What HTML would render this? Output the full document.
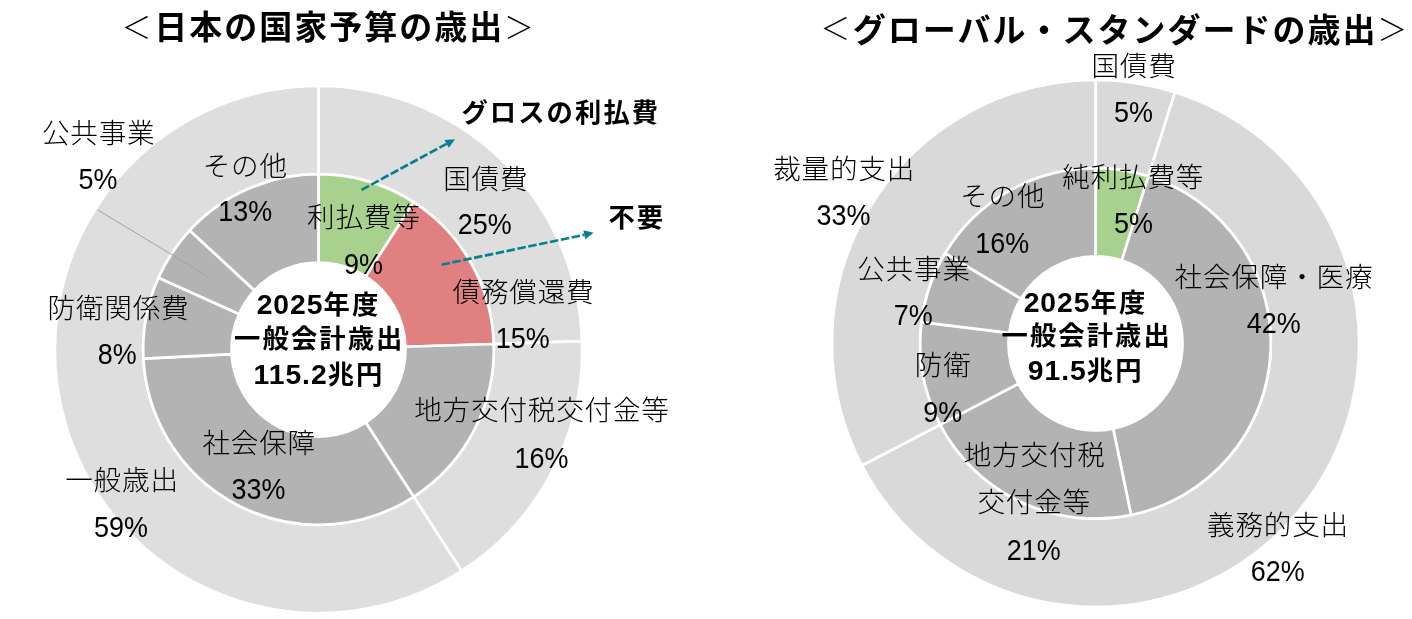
<!DOCTYPE html>
<html lang="ja"><head><meta charset="utf-8"><title>歳出</title>
<style>
html,body{margin:0;padding:0;background:#fff;}
body{width:1412px;height:619px;overflow:hidden;}
svg{display:block;font-family:'Liberation Sans','Noto Sans CJK JP',sans-serif;fill:#000;}
</style></head><body>
<svg width="1412" height="619" viewBox="0 0 1412 619">
<rect width="1412" height="619" fill="#fff"/>
<!-- left donut -->
<g stroke="#fff" stroke-width="2.7" stroke-linejoin="round">
<path d="M318.50 85.85 A263.65 263.65 0 0 1 582.02 341.22 L493.74 343.99 A175.33 175.33 0 0 0 318.50 174.17 Z" fill="#dedede"/>
<path d="M582.02 341.22 A263.65 263.65 0 0 1 461.58 570.95 L413.65 496.76 A175.33 175.33 0 0 0 493.74 343.99 Z" fill="#dedede"/>
<path d="M461.58 570.95 A263.65 263.65 0 1 1 318.50 85.85 L318.50 174.17 A175.33 175.33 0 1 0 413.65 496.76 Z" fill="#dedede"/>
<path d="M318.50 174.17 A175.33 175.33 0 0 1 413.65 202.24 L365.72 276.42 A87.00 87.00 0 0 0 318.50 262.50 Z" fill="#a9d18e"/>
<path d="M413.65 202.24 A175.33 175.33 0 0 1 493.74 343.99 L405.46 346.77 A87.00 87.00 0 0 0 365.72 276.42 Z" fill="#e08080"/>
<path d="M493.74 343.99 A175.33 175.33 0 0 1 413.65 496.76 L365.72 422.58 A87.00 87.00 0 0 0 405.46 346.77 Z" fill="#b3b3b3"/>
<path d="M413.65 496.76 A175.33 175.33 0 0 1 143.41 358.64 L231.61 354.04 A87.00 87.00 0 0 0 365.72 422.58 Z" fill="#b3b3b3"/>
<path d="M143.41 358.64 A175.33 175.33 0 0 1 158.53 277.75 L239.11 313.90 A87.00 87.00 0 0 0 231.61 354.04 Z" fill="#b3b3b3"/>
<path d="M158.53 277.75 A175.33 175.33 0 0 1 189.79 230.45 L254.63 290.42 A87.00 87.00 0 0 0 239.11 313.90 Z" fill="#b3b3b3"/>
<path d="M189.79 230.45 A175.33 175.33 0 0 1 318.50 174.17 L318.50 262.50 A87.00 87.00 0 0 0 254.63 290.42 Z" fill="#b3b3b3"/>
</g>
<!-- right donut -->
<g stroke="#fff" stroke-width="2.7" stroke-linejoin="round">
<path d="M1095.50 79.85 A263.55 263.55 0 0 1 1175.05 92.14 L1148.40 176.31 A175.26 175.26 0 0 0 1095.50 168.14 Z" fill="#d9d9d9"/>
<path d="M1175.05 92.14 A263.55 263.55 0 1 1 861.97 465.55 L940.20 424.63 A175.26 175.26 0 1 0 1148.40 176.31 Z" fill="#d9d9d9"/>
<path d="M861.97 465.55 A263.55 263.55 0 0 1 1095.50 79.85 L1095.50 168.14 A175.26 175.26 0 0 0 940.20 424.63 Z" fill="#d9d9d9"/>
<path d="M1095.50 168.14 A175.26 175.26 0 0 1 1148.40 176.31 L1121.75 260.48 A86.97 86.97 0 0 0 1095.50 256.43 Z" fill="#a9d18e"/>
<path d="M1148.40 176.31 A175.26 175.26 0 0 1 1131.04 515.02 L1113.14 428.56 A86.97 86.97 0 0 0 1121.75 260.48 Z" fill="#b3b3b3"/>
<path d="M1131.04 515.02 A175.26 175.26 0 0 1 940.20 424.63 L1018.43 383.71 A86.97 86.97 0 0 0 1113.14 428.56 Z" fill="#b3b3b3"/>
<path d="M940.20 424.63 A175.26 175.26 0 0 1 921.54 322.09 L1009.17 332.82 A86.97 86.97 0 0 0 1018.43 383.71 Z" fill="#b3b3b3"/>
<path d="M921.54 322.09 A175.26 175.26 0 0 1 945.21 253.24 L1020.92 298.66 A86.97 86.97 0 0 0 1009.17 332.82 Z" fill="#b3b3b3"/>
<path d="M945.21 253.24 A175.26 175.26 0 0 1 1095.50 168.14 L1095.50 256.43 A86.97 86.97 0 0 0 1020.92 298.66 Z" fill="#b3b3b3"/>
</g>
<line x1="98.1" y1="210.1" x2="209.4" y2="277.5" stroke="#a3a3a3" stroke-width="1"/>
<line x1="361.5" y1="189.9" x2="446.6" y2="143.8" stroke="#04808f" stroke-width="2.67" stroke-dasharray="8.5 2.58"/><polygon points="455.0,139.3 448.8,147.8 444.5,139.9" fill="#04808f"/>
<line x1="441.5" y1="264.7" x2="584.3" y2="234.8" stroke="#04808f" stroke-width="2.67" stroke-dasharray="8.5 2.58"/><polygon points="593.6,232.8 585.2,239.2 583.4,230.3" fill="#04808f"/>
<text font-size="33" font-weight="700" text-anchor="middle" letter-spacing="2"><tspan x="136.4" y="38.0" font-size="30" font-weight="300" letter-spacing="0">＜</tspan><tspan x="329.3" y="38.9">日本の国家予算の歳出</tspan><tspan x="519.1" y="37.9" font-size="30" font-weight="300" letter-spacing="0">＞</tspan></text>
<text font-size="33" font-weight="700" text-anchor="middle" letter-spacing="2"><tspan x="835.2" y="38.8" font-size="30" font-weight="300" letter-spacing="0">＜</tspan><tspan x="1115.2" y="41.9">グローバル・スタンダードの歳出</tspan><tspan x="1392.2" y="39.8" font-size="30" font-weight="300" letter-spacing="0">＞</tspan></text>
<text x="98.7" y="142.6" font-size="27.6" font-weight="300" text-anchor="middle" letter-spacing="0.8">公共事業</text>
<text x="98.0" y="189.4" font-size="29.3" font-weight="300" text-anchor="middle" transform="translate(98.0 0) scale(0.92 1) translate(-98.0 0)">5%</text>
<text x="245.3" y="176.1" font-size="27.6" font-weight="300" text-anchor="middle" letter-spacing="0.8">その他</text>
<text x="245.3" y="221.4" font-size="29.3" font-weight="300" text-anchor="middle" transform="translate(245.3 0) scale(0.92 1) translate(-245.3 0)">13%</text>
<text x="363.8" y="226.7" font-size="27.6" font-weight="300" text-anchor="middle" letter-spacing="0.8">利払費等</text>
<text x="363.5" y="274.1" font-size="29.3" font-weight="300" text-anchor="middle" transform="translate(363.5 0) scale(0.92 1) translate(-363.5 0)">9%</text>
<text x="485.8" y="188.7" font-size="27.6" font-weight="300" text-anchor="middle" letter-spacing="0.8">国債費</text>
<text x="484.7" y="234.1" font-size="29.3" font-weight="300" text-anchor="middle" transform="translate(484.7 0) scale(0.92 1) translate(-484.7 0)">25%</text>
<text x="523.5" y="301.6" font-size="27.6" font-weight="300" text-anchor="middle" letter-spacing="0.8">債務償還費</text>
<text x="522.8" y="348.4" font-size="29.3" font-weight="300" text-anchor="middle" transform="translate(522.8 0) scale(0.92 1) translate(-522.8 0)">15%</text>
<text x="542.0" y="420.4" font-size="27.6" font-weight="300" text-anchor="middle" letter-spacing="0.8">地方交付税交付金等</text>
<text x="541.5" y="467.8" font-size="29.3" font-weight="300" text-anchor="middle" transform="translate(541.5 0) scale(0.92 1) translate(-541.5 0)">16%</text>
<text x="259.2" y="453.1" font-size="27.6" font-weight="300" text-anchor="middle" letter-spacing="0.8">社会保障</text>
<text x="258.5" y="499.2" font-size="29.3" font-weight="300" text-anchor="middle" transform="translate(258.5 0) scale(0.92 1) translate(-258.5 0)">33%</text>
<text x="118.5" y="318.1" font-size="27.6" font-weight="300" text-anchor="middle" letter-spacing="0.8">防衛関係費</text>
<text x="117.2" y="364.5" font-size="29.3" font-weight="300" text-anchor="middle" transform="translate(117.2 0) scale(0.92 1) translate(-117.2 0)">8%</text>
<text x="122.0" y="490.3" font-size="27.6" font-weight="300" text-anchor="middle" letter-spacing="0.8">一般歳出</text>
<text x="121.0" y="536.8" font-size="29.3" font-weight="300" text-anchor="middle" transform="translate(121.0 0) scale(0.92 1) translate(-121.0 0)">59%</text>
<text x="318.5" y="313.6" font-size="26.3" font-weight="700" text-anchor="middle" letter-spacing="2.1"><tspan font-size="28.3" letter-spacing="1">2025</tspan>年度</text>
<text x="319.3" y="347.6" font-size="26.3" font-weight="700" text-anchor="middle" letter-spacing="2.1">一般会計歳出</text>
<text x="319.0" y="383.6" font-size="26.3" font-weight="700" text-anchor="middle" letter-spacing="2.1"><tspan font-size="28.3" letter-spacing="1">115.2</tspan>兆円</text>
<text x="560.8" y="121.8" font-size="26.3" font-weight="700" text-anchor="middle" letter-spacing="2.1">グロスの利払費</text>
<text x="636.8" y="227.3" font-size="26.3" font-weight="700" text-anchor="middle" letter-spacing="2.1">不要</text>
<text x="1134.0" y="76.1" font-size="27.6" font-weight="300" text-anchor="middle" letter-spacing="0.8">国債費</text>
<text x="1133.5" y="122.0" font-size="29.3" font-weight="300" text-anchor="middle" transform="translate(1133.5 0) scale(0.92 1) translate(-1133.5 0)">5%</text>
<text x="1133.2" y="187.3" font-size="27.6" font-weight="300" text-anchor="middle" letter-spacing="0.8">純利払費等</text>
<text x="1133.5" y="233.5" font-size="29.3" font-weight="300" text-anchor="middle" transform="translate(1133.5 0) scale(0.92 1) translate(-1133.5 0)">5%</text>
<text x="844.2" y="179.0" font-size="27.6" font-weight="300" text-anchor="middle" letter-spacing="0.8">裁量的支出</text>
<text x="843.5" y="224.6" font-size="29.3" font-weight="300" text-anchor="middle" transform="translate(843.5 0) scale(0.92 1) translate(-843.5 0)">33%</text>
<text x="1002.7" y="206.0" font-size="27.6" font-weight="300" text-anchor="middle" letter-spacing="0.8">その他</text>
<text x="1002.2" y="252.8" font-size="29.3" font-weight="300" text-anchor="middle" transform="translate(1002.2 0) scale(0.92 1) translate(-1002.2 0)">16%</text>
<text x="914.0" y="279.1" font-size="27.6" font-weight="300" text-anchor="middle" letter-spacing="0.8">公共事業</text>
<text x="913.3" y="325.2" font-size="29.3" font-weight="300" text-anchor="middle" transform="translate(913.3 0) scale(0.92 1) translate(-913.3 0)">7%</text>
<text x="943.2" y="375.1" font-size="27.6" font-weight="300" text-anchor="middle" letter-spacing="0.8">防衛</text>
<text x="942.7" y="421.7" font-size="29.3" font-weight="300" text-anchor="middle" transform="translate(942.7 0) scale(0.92 1) translate(-942.7 0)">9%</text>
<text x="1274.0" y="287.0" font-size="27.6" font-weight="300" text-anchor="middle" letter-spacing="0.8">社会保障・医療</text>
<text x="1273.7" y="333.1" font-size="29.3" font-weight="300" text-anchor="middle" transform="translate(1273.7 0) scale(0.92 1) translate(-1273.7 0)">42%</text>
<text x="1034.7" y="465.4" font-size="27.6" font-weight="300" text-anchor="middle" letter-spacing="0.8">地方交付税</text>
<text x="1034.2" y="511.8" font-size="27.6" font-weight="300" text-anchor="middle" letter-spacing="0.8">交付金等</text>
<text x="1033.7" y="560.0" font-size="29.3" font-weight="300" text-anchor="middle" transform="translate(1033.7 0) scale(0.92 1) translate(-1033.7 0)">21%</text>
<text x="1278.0" y="534.9" font-size="27.6" font-weight="300" text-anchor="middle" letter-spacing="0.8">義務的支出</text>
<text x="1277.8" y="580.6" font-size="29.3" font-weight="300" text-anchor="middle" transform="translate(1277.8 0) scale(0.92 1) translate(-1277.8 0)">62%</text>
<text x="1085.5" y="311.6" font-size="26.3" font-weight="700" text-anchor="middle" letter-spacing="2.1"><tspan font-size="28.3" letter-spacing="1">2025</tspan>年度</text>
<text x="1086.7" y="344.6" font-size="26.3" font-weight="700" text-anchor="middle" letter-spacing="2.1">一般会計歳出</text>
<text x="1085.7" y="380.0" font-size="26.3" font-weight="700" text-anchor="middle" letter-spacing="2.1"><tspan font-size="28.3" letter-spacing="1">91.5</tspan>兆円</text>
</svg>
</body></html>
